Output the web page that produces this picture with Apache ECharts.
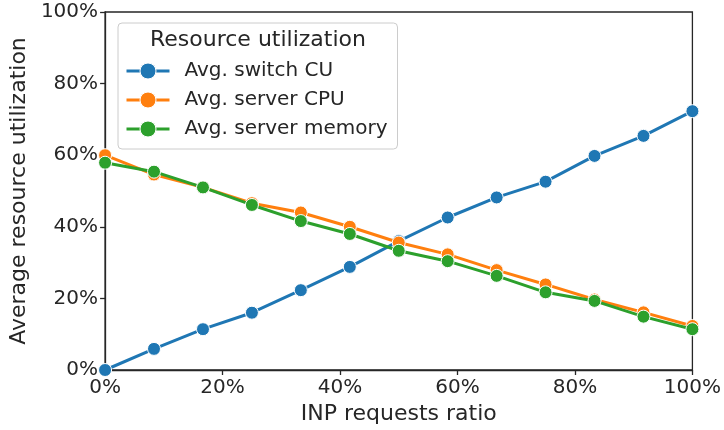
<!DOCTYPE html>
<html>
<head>
<meta charset="utf-8">
<script src="https://cdn.jsdelivr.net/npm/echarts@6/dist/echarts.min.js"></script>
<style>html,body{margin:0;padding:0;background:#fff}#c{width:724px;height:430px}</style>
</head>
<body>
<div id="c"></div>
<script>
const xRatios = [0, 8.33, 16.67, 25, 33.33, 41.67, 50, 58.33, 66.67, 75, 83.33, 91.67, 100];
const switchCU = [0, 5.9, 11.4, 16.0, 22.3, 28.8, 36.0, 42.6, 48.2, 52.6, 59.8, 65.4, 72.3];
const serverCPU = [60.0, 54.6, 51.0, 46.6, 44.0, 40.0, 35.6, 32.3, 27.9, 23.9, 19.7, 16.1, 12.3];
const serverMem = [57.9, 55.4, 51.0, 46.1, 41.6, 38.0, 33.3, 30.4, 26.3, 21.7, 19.3, 14.9, 11.4];
const seriesNames = ['Avg. switch CU', 'Avg. server CPU', 'Avg. server memory'];
const colors = ['#1f77b4', '#ff7f0e', '#2ca02c'];
const xTicks = [0, 20, 40, 60, 80, 100];

const pair = arr => arr.map((v, i) => [xRatios[i], v]);
const txt = '#262626';
const font = 'DejaVu Sans';

const chart = echarts.init(document.getElementById('c'), null, {renderer: 'canvas'});
chart.setOption({
  animation: false,
  backgroundColor: '#fff',
  grid: {left: 103, right: 30, top: 12, bottom: 60, show: true, borderColor: txt, borderWidth: 1.3, backgroundColor: 'transparent'},
  xAxis: {
    type: 'value', min: 0, max: 100, interval: 20,
    name: 'INP requests ratio', nameLocation: 'middle', nameGap: 30,
    nameTextStyle: {fontFamily: font, fontSize: 22, color: txt},
    axisLine: {show: true, lineStyle: {color: txt, width: 1.3}},
    axisTick: {show: true, length: 5, lineStyle: {color: txt, width: 1.3}},
    axisLabel: {fontFamily: font, fontSize: 20, color: txt, margin: 8, formatter: '{value}%'},
    splitLine: {show: false}
  },
  yAxis: {
    type: 'value', min: 0, max: 100, interval: 20,
    name: 'Average resource utilization', nameLocation: 'middle', nameGap: 67,
    nameTextStyle: {fontFamily: font, fontSize: 22, color: txt},
    axisLine: {show: true, lineStyle: {color: txt, width: 1.3}},
    axisTick: {show: true, length: 5, lineStyle: {color: txt, width: 1.3}},
    axisLabel: {fontFamily: font, fontSize: 20, color: txt, margin: 7, formatter: '{value}%'},
    splitLine: {show: false}
  },
  legend: {
    data: seriesNames,
    orient: 'vertical', left: 118, top: 23,
    padding: [38, 10, 10, 7],
    itemWidth: 43, itemHeight: 20, itemGap: 9,
    borderColor: '#cccccc', borderWidth: 1, borderRadius: 4,
    backgroundColor: 'rgba(255,255,255,0.8)',
    lineStyle: {width: 3},
    itemStyle: {borderColor: '#fff', borderWidth: 1},
    textStyle: {fontFamily: font, fontSize: 20, color: txt, lineHeight: 20, padding: [0, 0, 0, 10]}
  },
  graphic: [{
    type: 'text', left: 150, top: 29, z: 100,
    style: {text: 'Resource utilization', fontFamily: font, fontSize: 22, fill: txt}
  }],
  series: [switchCU, serverCPU, serverMem].map((d, i) => ({
    name: seriesNames[i], type: 'line', data: pair(d),
    symbol: 'circle', symbolSize: 13, showSymbol: true,
    lineStyle: {color: colors[i], width: 3},
    itemStyle: {color: colors[i], borderColor: '#fff', borderWidth: 1},
    z: 2 + i, clip: false
  }))
});
</script>
</body>
</html>
